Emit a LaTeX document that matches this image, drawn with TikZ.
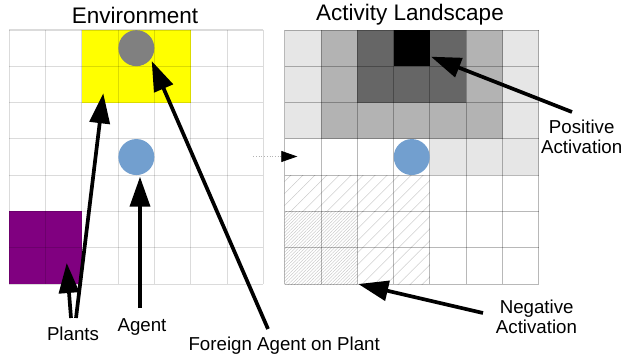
\documentclass[tikz,border=0pt]{standalone}
\usepackage{fontspec}
\setmainfont{Liberation Sans}
\usetikzlibrary{arrows.meta,patterns.meta}

\definecolor{plantyellow}{HTML}{FFFF00}
\definecolor{plantpurple}{HTML}{800080}
\definecolor{agentblue}{HTML}{729FCF}
\definecolor{foreigngray}{HTML}{808080}
\definecolor{shadeW}{HTML}{FFFFFF}
\definecolor{shadeL}{HTML}{E6E6E6}
\definecolor{shadeM}{HTML}{B3B3B3}
\definecolor{shadeD}{HTML}{666666}
\definecolor{shadeK}{HTML}{000000}

\begin{document}
\begin{tikzpicture}[x=1pt,y=-1pt,
  headline/.style={font=\fontsize{22.5}{26}\selectfont, anchor=base, inner sep=0pt},
  lbl/.style={font=\fontsize{18.7}{22}\selectfont, anchor=base, inner sep=0pt},
  ptr/.style={line width=3.7pt, -{Triangle[length=30pt,width=20pt]}},
  flow/.style={line width=0.7pt, dotted, draw=black!30,
    -{Triangle[length=16pt,width=11pt,color=black]}},
  envline/.style={line width=1.1pt, draw=black, draw opacity=0.14},
  actline/.style={line width=0.9pt, draw=black, draw opacity=0.28},
  token/.style={circle, minimum size=36pt, inner sep=0pt},
  sparsehatch/.style={pattern={Lines[angle=45,distance=8.5pt,line width=0.35pt]}, pattern color=black!25},
  densehatch/.style={pattern={Lines[angle=45,distance=2.3pt,line width=0.35pt]}, pattern color=black!25},
]
\useasboundingbox (0,0) rectangle (624,358);
\fill[white] (0,0) rectangle (624,358);

\def\cw{36.3}
\def\lx{9.3}
\def\rx{284.7}
\def\ty{30}

% ---------- Environment grid ----------
\fill[plantyellow] (\lx+2*\cw,\ty) rectangle ++(3*\cw,2*\cw);
\fill[plantpurple] (\lx,\ty+5*\cw) rectangle ++(2*\cw,2*\cw);
\foreach \i in {0,...,7} {
  \draw[envline] (\lx+\i*\cw,\ty) -- (\lx+\i*\cw,\ty+7*\cw);
  \draw[envline] (\lx,\ty+\i*\cw) -- (\lx+7*\cw,\ty+\i*\cw);
}
\node[token, fill=foreigngray] (foreign) at (\lx+3.5*\cw,\ty+0.5*\cw) {};
\node[token, fill=agentblue] (agent) at (\lx+3.5*\cw,\ty+3.5*\cw) {};

% ---------- Activity landscape grid ----------
\foreach \row [count=\r from 0] in {{L,M,D,K,D,M,L},{L,M,D,D,D,M,L},{L,M,M,M,M,M,L},{W,W,W,W,L,L,L}} {
  \foreach \col [count=\c from 0] in \row {
    \fill[shade\col] (\rx+\c*\cw,\ty+\r*\cw) rectangle ++(\cw,\cw);
  }
}
\fill[sparsehatch] (\rx,\ty+4*\cw) rectangle ++(4*\cw,\cw);
\fill[sparsehatch] (\rx+2*\cw,\ty+5*\cw) rectangle ++(2*\cw,2*\cw);
\fill[densehatch] (\rx,\ty+5*\cw) rectangle ++(2*\cw,2*\cw);
\foreach \i in {0,...,7} {
  \draw[actline] (\rx+\i*\cw,\ty) -- (\rx+\i*\cw,\ty+7*\cw);
  \draw[actline] (\rx,\ty+\i*\cw) -- (\rx+7*\cw,\ty+\i*\cw);
}
\node[token, fill=agentblue] (selfagent) at (\rx+3.5*\cw,\ty+3.5*\cw) {};

% ---------- Titles ----------
\node[headline] (envtitle) at (135,23.3) {Environment};
\node[headline] (acttitle) at (410,20.3) {Activity Landscape};

% ---------- Labels ----------
\node[lbl] (plants) at (73,340.7) {Plants};
\node[lbl] (agentlbl) at (142,331.7) {Agent};
\node[lbl] (foreignlbl) at (284.2,350) {Foreign Agent on Plant};
\node[lbl] (poslbl) at (581.7,133.3) {Positive};
\node[lbl] (poslblb) at (581.7,153.3) {Activation};
\node[lbl] (neglbl) at (536.7,313.4) {Negative};
\node[lbl] (neglblb) at (536.5,333.4) {Activation};

% ---------- Arrow end points ----------
\coordinate (yellowtip) at (103.3,93.3);
\coordinate (purpletip) at (66.7,263);
\coordinate (plantsA) at (76,318);
\coordinate (plantsB) at (71,318);
\coordinate (agenttail) at (140,308);
\coordinate (agenttip) at (140,176.7);
\coordinate (foreigntail) at (268,329);
\coordinate (foreigntip) at (151.7,61);
\coordinate (postail) at (572,112);
\coordinate (postip) at (431,56.7);
\coordinate (negtail) at (483,313);
\coordinate (negtip) at (358.3,284);
\coordinate (envout) at (253.3,156.5);
\coordinate (actin) at (297.3,156.5);

% ---------- Arrows ----------
\draw[ptr] (plantsA) -- (yellowtip);
\draw[ptr] (plantsB) -- (purpletip);
\draw[ptr] (agenttail) -- (agenttip);
\draw[ptr] (foreigntail) -- (foreigntip);
\draw[ptr] (postail) -- (postip);
\draw[ptr] (negtail) -- (negtip);
\draw[flow] (envout) -- (actin);
\end{tikzpicture}
\end{document}
